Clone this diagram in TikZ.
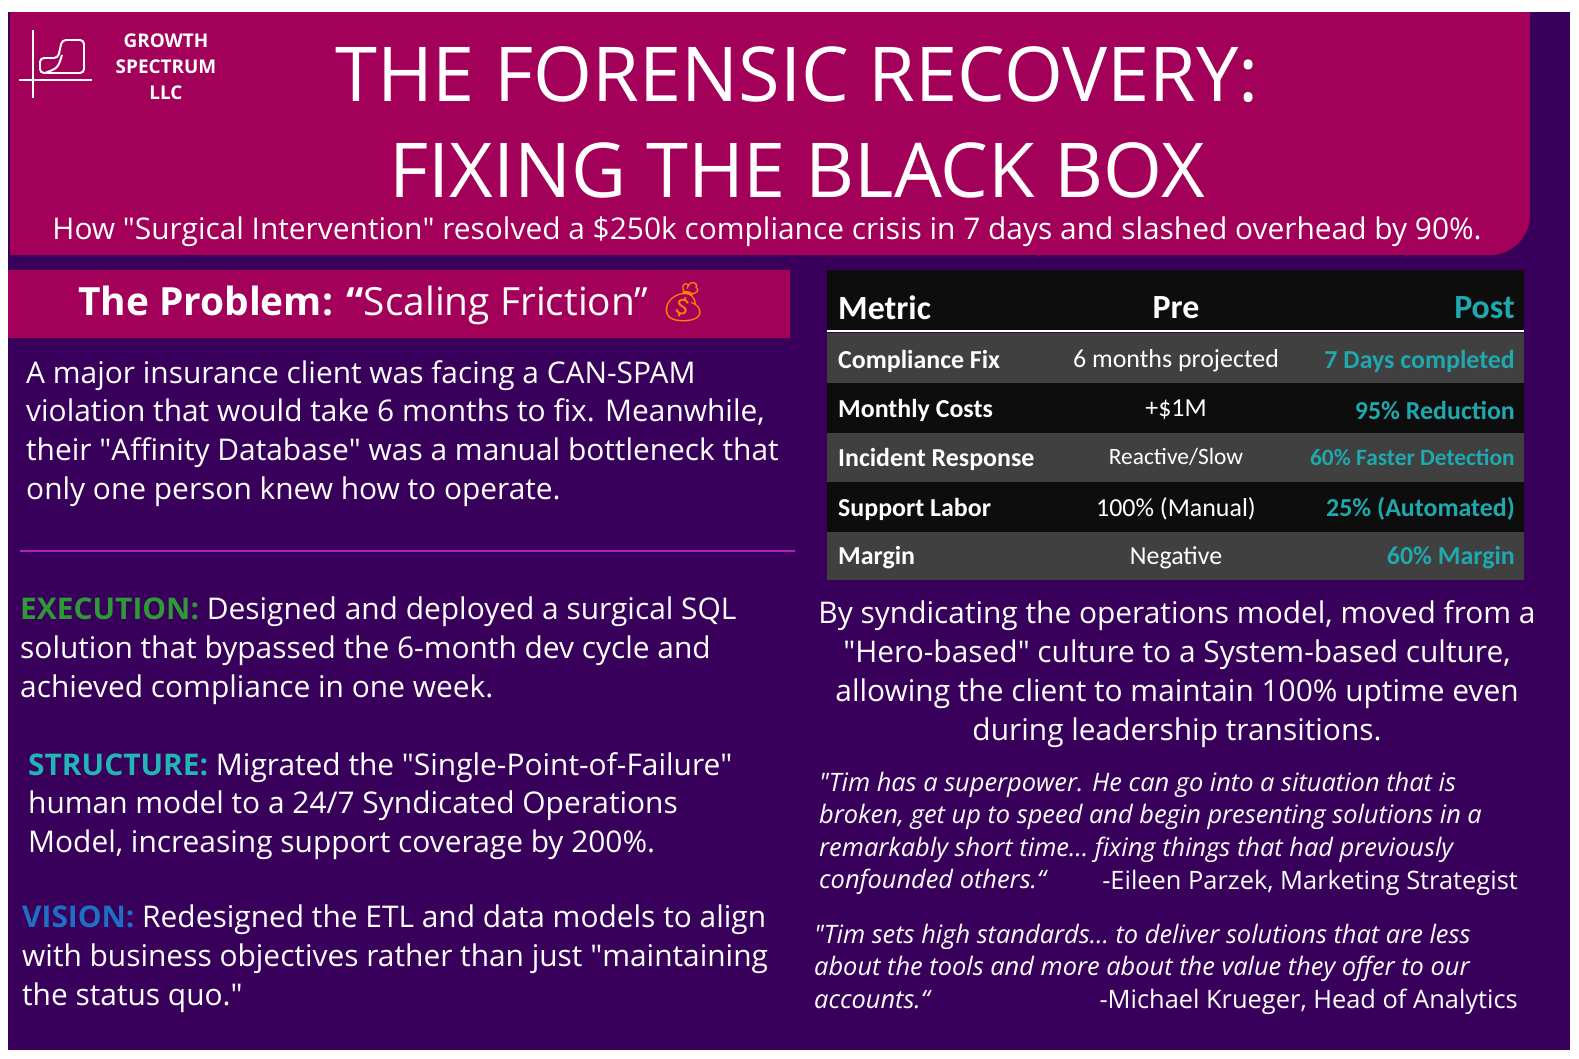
\documentclass[tikz,border=0pt]{standalone}
\usepackage{fontspec}
\setmainfont{Open Sans}
\newfontfamily\cf{Carlito}
\newfontfamily\emo{Noto Emoji}
\newcommand\dq{\XeTeXglyph\XeTeXcharglyph"22\relax}
\definecolor{mag}{HTML}{A3005A}
\definecolor{purp}{HTML}{38005A}
\definecolor{rowg}{HTML}{404040}
\definecolor{rowk}{HTML}{0D0D0D}
\definecolor{cy}{HTML}{1FA8AE}
\definecolor{exg}{HTML}{2E9A35}
\definecolor{stc}{HTML}{22B5B5}
\definecolor{vib}{HTML}{1E70C4}
\definecolor{sep}{HTML}{B020C0}
\tikzset{
 body/.style={text=white,anchor=north west,align=left,inner sep=0pt,font=\fontsize{30}{39}\selectfont},
 quote/.style={text=white,anchor=north west,align=left,inner sep=0pt,font=\fontsize{25.5}{32.5}\selectfont\itshape},
 auth/.style={text=white,anchor=north east,inner sep=0pt,font=\fontsize{25.5}{32.5}\selectfont},
 th/.style={text=white,inner sep=0pt,font=\cf\fontsize{34}{38}\selectfont\bfseries},
 tm/.style={text=white,anchor=west,inner sep=0pt,font=\cf\fontsize{26}{30}\selectfont\bfseries},
 tp/.style={text=white,inner sep=0pt,font=\cf\fontsize{26}{30}\selectfont},
 tq/.style={text=cy,anchor=east,inner sep=0pt,font=\cf\fontsize{26}{30}\selectfont\bfseries},
}
\begin{document}
\begin{tikzpicture}[x=1bp,y=-1bp]
\useasboundingbox (0,0) rectangle (1579,1058);
\fill[white] (0,0) rectangle (1579,1058);
\fill[purp] (8,12) rectangle (1570,1050);
\fill[mag] (10,12) -- (1530,12) -- (1530,215) arc[start angle=0,end angle=90,radius=40] -- (10,255) -- cycle;
% logo
\draw[white,line width=2.2pt] (33,30) -- (33,98) (19,80) -- (92,80);
\draw[white,line width=2pt,rounded corners=4pt] (40,73) -- (40,58) -- (58,58) -- (62,40) -- (84,40) -- (84,73) -- cycle;
\draw[white,line width=2pt] (45,73) .. controls (58,68) .. (62,55);
\node (logo) [text=white,align=center,font=\fontsize{19}{26}\selectfont\bfseries,inner sep=0pt] at (166,67) {GROWTH\\SPECTRUM\\LLC};
\node (t1) [text=white,font=\fontsize{76}{80}\selectfont,inner sep=0pt] at (797,75) {THE FORENSIC RECOVERY:};
\node (t2) [text=white,font=\fontsize{76}{80}\selectfont,inner sep=0pt] at (797,170) {FIXING THE BLACK BOX};
\node (sub) [text=white,font=\fontsize{30}{34}\selectfont,inner sep=0pt] at (767,232) {How \dq Surgical Intervention\dq{} resolved a \$250k compliance crisis in 7 days and slashed overhead by 90\%.};
% problem banner
\fill[mag] (8,270) rectangle (790,338);
\node (prob) [text=white,font=\fontsize{39}{44}\selectfont,inner sep=0pt] at (393,304) {\textbf{The Problem: “}Scaling Friction” {\emo\color{orange}💰}};
\node (ptext) [body] at (26,360) {A major insurance client was facing a CAN-SPAM\\violation that would take 6 months to fix. Meanwhile,\\their \dq Affinity Database\dq{} was a manual bottleneck that\\only one person knew how to operate.};
\draw[sep,line width=2pt] (20,551) -- (795,551);
\node (exe) [body] at (20,597) {\textbf{\color{exg}EXECUTION:} Designed and deployed a surgical SQL\\solution that bypassed the 6-month dev cycle and\\achieved compliance in one week.};
\node (str) [body] at (28,752) {\textbf{\color{stc}STRUCTURE:} Migrated the \dq Single-Point-of-Failure\dq\\human model to a 24/7 Syndicated Operations\\Model, increasing support coverage by 200\%.};
\node (vis) [body] at (22,905) {\textbf{\color{vib}VISION:} Redesigned the ETL and data models to align\\with business objectives rather than just \dq maintaining\\the status quo.\dq};
% table
\fill[rowk] (827,270) rectangle (1524,331);
\draw[white,line width=2.5pt] (827,331) -- (1524,331);
\fill[rowg] (827,333) rectangle (1524,383);
\fill[rowk] (827,383) rectangle (1524,433);
\fill[rowg] (827,433) rectangle (1524,482);
\fill[rowk] (827,482) rectangle (1524,532);
\fill[rowg] (827,532) rectangle (1524,580);
\node (h1) [th,anchor=west] at (838,308) {Metric};
\node (h2) [th] at (1176,308) {Pre};
\node (h3) [th,text=cy,anchor=east] at (1515,308) {Post};
\node (m1) [tm] at (838,361) {Compliance Fix};
\node (p1) [tp] at (1176,361) {6 months projected};
\node (q1) [tq] at (1515,361) {7 Days completed};
\node (m2) [tm] at (838,410) {Monthly Costs};
\node (p2) [tp] at (1176,410) {+\$1M};
\node (q2) [tq] at (1515,410) {95\% Reduction};
\node (m3) [tm] at (838,459) {Incident Response};
\node (p3) [tp,font=\cf\fontsize{23.5}{28}\selectfont] at (1176,457) {Reactive/Slow};
\node (q3) [tq,font=\cf\fontsize{23.5}{28}\selectfont\bfseries] at (1515,457) {60\% Faster Detection};
\node (m4) [tm] at (838,509) {Support Labor};
\node (p4) [tp] at (1176,509) {100\% (Manual)};
\node (q4) [tq] at (1515,509) {25\% (Automated)};
\node (m5) [tm] at (838,558) {Margin};
\node (p5) [tp] at (1176,558) {Negative};
\node (q5) [tq] at (1515,558) {60\% Margin};
\node (synd) [text=white,align=center,inner sep=0pt,font=\fontsize{30}{39}\selectfont] at (1177,674) {By syndicating the operations model, moved from a\\\dq Hero-based\dq{} culture to a System-based culture,\\allowing the client to maintain 100\% uptime even\\during leadership transitions.};
\node (q1t) [quote] at (819,772) {\dq Tim has a superpower. He can go into a situation that is\\broken, get up to speed and begin presenting solutions in a\\remarkably short time… fixing things that had previously\\confounded others.“};
\node (q1a) [auth] at (1518,869.5) {-Eileen Parzek, Marketing Strategist};
\node (q2t) [quote] at (814,924) {\dq Tim sets high standards… to deliver solutions that are less\\about the tools and more about the value they offer to our\\accounts.“};
\node (q2a) [auth] at (1518,989) {-Michael Krueger, Head of Analytics};
\end{tikzpicture}
\end{document}
